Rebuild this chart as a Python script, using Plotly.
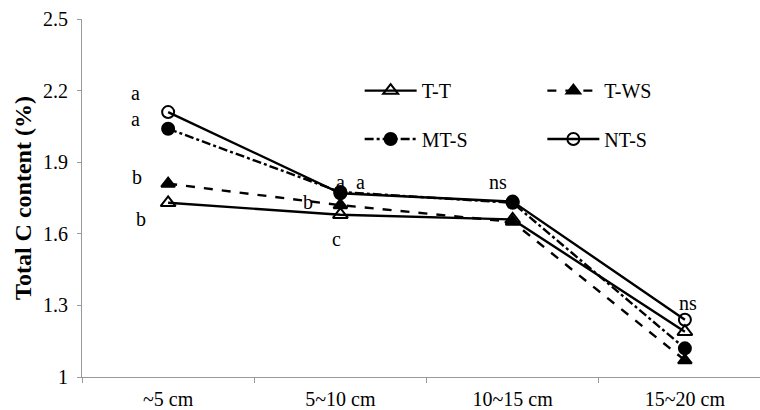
import plotly.graph_objects as go

depths = ["~5 cm", "5~10 cm", "10~15 cm", "15~20 cm"]
y_ticks = [1.0, 1.3, 1.6, 1.9, 2.2, 2.5]
y_tick_text = ["1", "1.3", "1.6", "1.9", "2.2", "2.5"]

t_t = [1.73, 1.68, 1.66, 1.19]
t_ws = [1.81, 1.72, 1.65, 1.07]
mt_s = [2.04, 1.775, 1.73, 1.12]
nt_s = [2.11, 1.77, 1.735, 1.24]

# significance letters: text, category, y value
sig_text = ["a", "a", "b", "b", "a", "a", "b", "c", "ns", "ns"]
sig_cat = ["~5 cm", "~5 cm", "~5 cm", "~5 cm", "5~10 cm", "5~10 cm", "5~10 cm", "5~10 cm", "10~15 cm", "15~20 cm"]
sig_y = [2.19, 2.08, 1.84, 1.66, 1.815, 1.815, 1.735, 1.58, 1.815, 1.31]
sig_dx = [-33, -33, -31, -27, 0, 20, -32, -4, -15, 3]

font_family = "Liberation Serif"

fig = go.Figure()
series = [
    ("T-T", t_t, "solid", "triangle-up-open", 13, "legend"),
    ("T-WS", t_ws, "dash", "triangle-up", 12, "legend2"),
    ("MT-S", mt_s, "dashdot", "circle", 12, "legend3"),
    ("NT-S", nt_s, "solid", "circle-open", 12, "legend4"),
]
for name, vals, dash, sym, msize, lg in series:
    fig.add_trace(go.Scatter(
        x=depths, y=vals, name=name, mode="lines+markers",
        line=dict(color="black", width=2.4, dash=dash),
        marker=dict(symbol=sym, size=msize, color="black",
                    line=dict(color="black", width=2)),
        legend=lg,
    ))

for t, c, yv, dx in zip(sig_text, sig_cat, sig_y, sig_dx):
    fig.add_annotation(x=c, y=yv, text=t, showarrow=False, xshift=dx,
                       font=dict(family=font_family, size=20, color="black"))

legend_common = dict(
    xanchor="left", yanchor="middle", itemwidth=52,
    font=dict(family=font_family, size=20, color="black"),
    bgcolor="rgba(0,0,0,0)",
)
fig.update_layout(
    width=760, height=410,
    margin=dict(l=82, r=0, t=19, b=33),
    paper_bgcolor="white", plot_bgcolor="white",
    font=dict(family=font_family, size=20, color="black"),
    legend=dict(x=0.4095, y=0.80, **legend_common),
    legend2=dict(x=0.679, y=0.80, **legend_common),
    legend3=dict(x=0.4095, y=0.665, **legend_common),
    legend4=dict(x=0.679, y=0.665, **legend_common),
    showlegend=True,
)
fig.update_xaxes(
    type="category", range=[-0.5, 3.436],
    showline=True, linecolor="#999999", linewidth=1,
    ticks="outside", tickson="boundaries", ticklen=5, tickcolor="#999999",
    ticklabelstandoff=4,
    showgrid=False, zeroline=False,
    tickfont=dict(family=font_family, size=20, color="black"),
)
fig.update_yaxes(
    range=[1.0, 2.5], tickvals=y_ticks, ticktext=y_tick_text,
    showline=True, linecolor="#999999", linewidth=1,
    ticks="outside", ticklen=4, tickcolor="#999999",
    ticklabelstandoff=5,
    showgrid=False, zeroline=False,
    tickfont=dict(family=font_family, size=20, color="black"),
    title=dict(text="<b>Total C content (%)</b>", standoff=4,
               font=dict(family=font_family, size=24, color="black")),
)
fig.write_html("out.html", config={"displayModeBar": False},
               post_script="document.body.style.margin='0';")
